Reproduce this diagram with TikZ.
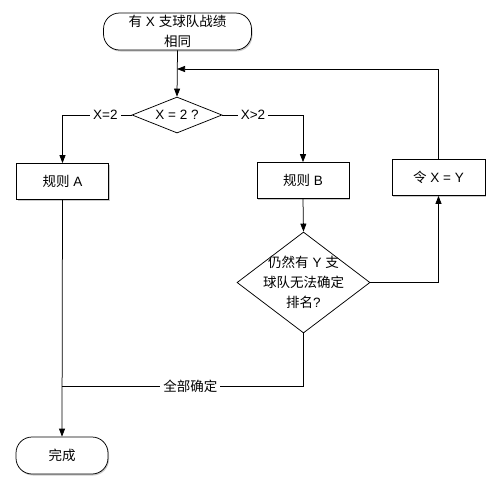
\documentclass[tikz,border=0pt]{standalone}
\usepackage{fontspec}
\setmainfont{Liberation Sans}
\newfontfamily\cjk{Noto Sans CJK SC}
\usetikzlibrary{shapes.geometric,arrows.meta,shadows}
\begin{document}
\begin{tikzpicture}[x=1pt,y=-1pt,
  every node/.style={font=\fontsize{13.5}{20}\selectfont},
  every path/.style={line width=0.75pt},
  sh/.style={drop shadow={shadow xshift=1pt,shadow yshift=-1.5pt,fill=black!35,opacity=0.6}},
  box/.style={draw,fill=white,sh,minimum width=92pt,minimum height=36pt,inner sep=0pt},
  term/.style={draw,fill=white,sh,rounded corners=16pt,inner sep=0pt,align=center},
  dia/.style={draw,fill=white,diamond,inner sep=0pt},
  lbl/.style={fill=white,inner sep=3pt},
  arr/.style={draw,-{Triangle[length=8pt,width=6pt]}},
  ln/.style={draw}]
\useasboundingbox (0,0) rectangle (490,483);
\node[term,minimum width=148pt,minimum height=37pt] (start) at (177.5,31.5) {{\cjk 有} X {\cjk 支球队战绩}\\{\cjk 相同}};
\node[dia,minimum width=90pt,minimum height=36pt,label={[name=d1t]center:X = 2 ?}] (d1) at (177,115) {};
\node[box] (A) at (62.5,181.5) {{\cjk 规则} A};
\node[box] (B) at (303,180.5) {{\cjk 规则} B};
\node[box,minimum width=93pt] (Y) at (438.5,177.5) {{\cjk 令} X = Y};
\node[dia,minimum width=133pt,minimum height=101pt,
  label={[name=d2t,align=center,font=\fontsize{13.5}{20}\selectfont]center:{\cjk 仍然有} Y {\cjk 支}\\{\cjk 球队无法确定}\\{\cjk 排名}?}] (d2) at (303.5,282.5) {};
\node[term,minimum width=92pt,minimum height=37pt] (done) at (62,455.5) {{\cjk 完成}};
\coordinate (m) at (177,69);
\coordinate (j) at (62,386);
\draw[arr] (start.south) -- (d1.north);
\draw[arr] (d1.west) -| node[lbl,pos=0.19]{X=2} (A.north);
\draw[arr] (d1.east) -| node[lbl,pos=0.19]{X>2} (B.north);
\draw[arr] (B.south) -- (d2.north);
\draw[arr] (d2.east) -| (Y.south);
\draw[arr] (Y.north) |- (m);
\draw[arr] (A.south) -- (done.north);
\draw[ln] (d2.south) |- node[lbl,pos=0.734]{{\cjk 全部确定}} (j);
\end{tikzpicture}
\end{document}
